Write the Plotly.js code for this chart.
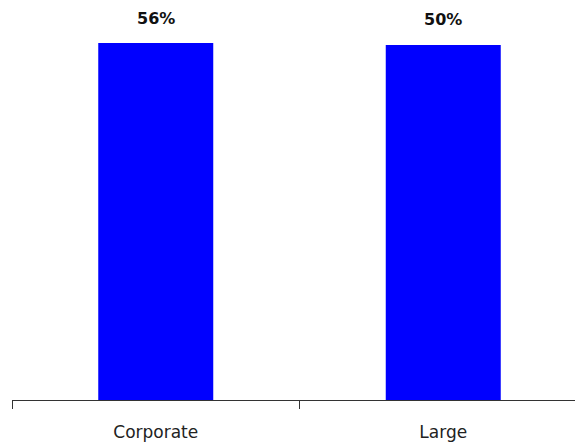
<!DOCTYPE html>
<html>
<head>
<meta charset="utf-8">
<script src="https://cdn.plot.ly/plotly-3.0.1.min.js"></script>
<style>
html,body{margin:0;padding:0;overflow:hidden;background:#fff;}
#chart{width:587px;height:442px;}
</style>
</head>
<body>
<div id="chart"></div>
<script>
const categories = ["Corporate", "Large"];
const values = [56, 55.7];
const valueLabels = ["56%", "50%"];

const trace = {
  type: "bar",
  x: categories,
  y: values,
  width: 0.4,
  marker: {color: "#0000FF"},
  hoverinfo: "none"
};

const annotations = categories.map((c, i) => ({
  x: c,
  y: values[i],
  xref: "x",
  yref: "y",
  text: valueLabels[i],
  showarrow: false,
  yanchor: "middle",
  yshift: 25,
  font: {family: "DejaVu Sans", size: 16, color: "#111", weight: "bold"}
}));

const layout = {
  width: 587,
  height: 442,
  margin: {l: 12, r: 0, t: 0, b: 42},
  paper_bgcolor: "#fff",
  plot_bgcolor: "#fff",
  showlegend: false,
  xaxis: {
    type: "category",
    showline: true,
    linecolor: "#333",
    linewidth: 1,
    ticks: "outside",
    tickson: "boundaries",
    ticklen: 8,
    tickcolor: "#333",
    ticklabelstandoff: 17,
    showgrid: false,
    zeroline: false,
    tickfont: {family: "DejaVu Sans", size: 17, color: "#222"},
    automargin: false
  },
  yaxis: {
    visible: false,
    range: [0, 62.75],
    showgrid: false,
    zeroline: false
  },
  annotations: annotations
};

Plotly.newPlot("chart", [trace], layout, {staticPlot: true, displayModeBar: false});
</script>
</body>
</html>
